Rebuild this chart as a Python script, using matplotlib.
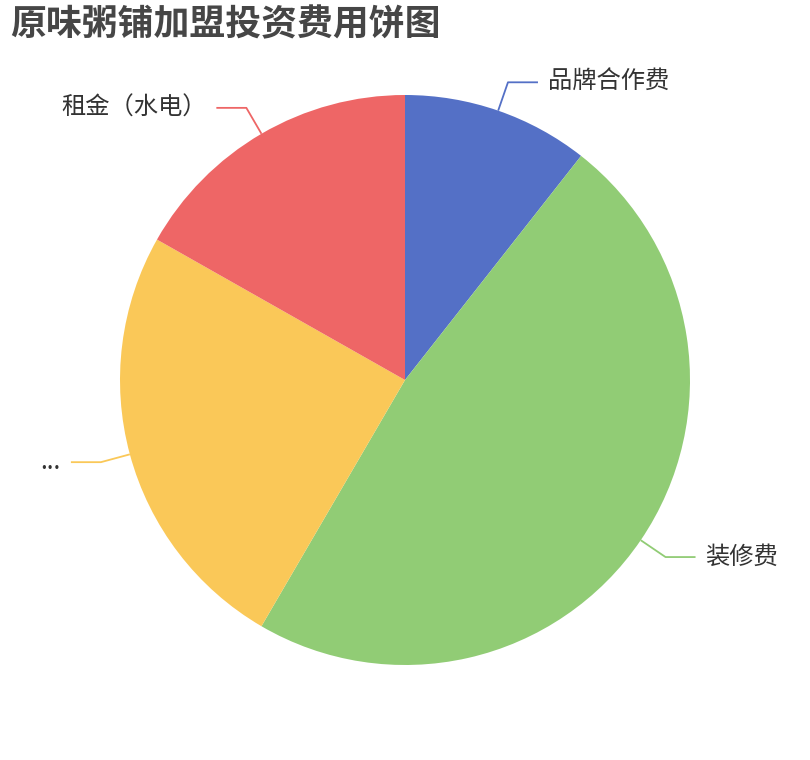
import numpy as np
import matplotlib.pyplot as plt

plt.rcParams['font.family'] = ['Noto Sans CJK SC', 'DejaVu Sans']

# Data (share of total)
names = ["品牌合作费", "装修费", "...", "租金（水电）"]
values = [10.6, 47.8, 24.8, 16.8]
colors = ["#5470c6", "#91cc75", "#fac858", "#ee6666"]

W, H = 810, 760
fig = plt.figure(figsize=(W / 100, H / 100), dpi=100)
ax = fig.add_axes([0, 0, 1, 1])

cx, cy, r = 405, 380, 285
wedges, _ = ax.pie(values, colors=colors, startangle=90, counterclock=False,
                   center=(cx, cy), radius=r, wedgeprops=dict(linewidth=0))
ax.set_xlim(0, W)
ax.set_ylim(0, H)
ax.set_aspect("equal")
ax.axis("off")

# label lines (echarts style: radial segment then horizontal segment)
len1, len2, gap = 30, 30, 10
total = sum(values)
cum = 0
for name, v, c in zip(names, values, colors):
    mid = (cum + v / 2) / total * 360
    cum += v
    a = np.deg2rad(90 - mid)
    x0, y0 = cx + r * np.cos(a), cy + r * np.sin(a)
    x1, y1 = cx + (r + len1) * np.cos(a), cy + (r + len1) * np.sin(a)
    side = 1 if np.cos(a) >= 0 else -1
    x2 = x1 + side * len2
    ax.plot([x0, x1, x2], [y0, y1, y1], color=c, lw=1.3, solid_capstyle="butt")
    ax.text(x2 + side * gap, y1, name, fontsize=17.5, color="#333333",
            ha="left" if side > 0 else "right", va="center")

fig.text(10 / W, 1 - 25 / H, "原味粥铺加盟投资费用饼图", fontsize=25.8,
         fontweight="bold", color="#464646", ha="left", va="center")

fig.savefig("out.png", dpi=100, facecolor="white")
